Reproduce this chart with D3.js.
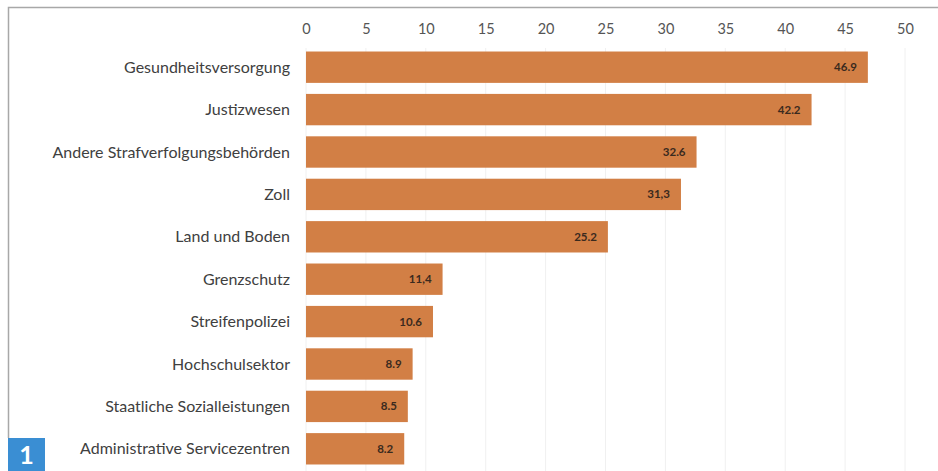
<!DOCTYPE html>
<html>
<head>
<meta charset="utf-8">
<script src="https://cdn.jsdelivr.net/npm/d3@7"></script>
<style>
  body { margin: 0; background: #fff; }
  svg { display: block; font-family: Lato, "Open Sans", sans-serif; }
</style>
</head>
<body>
<div class="chart"></div>
<script>
// categories and values
const categories = [
  "Gesundheitsversorgung",
  "Justizwesen",
  "Andere Strafverfolgungsbehörden",
  "Zoll",
  "Land und Boden",
  "Grenzschutz",
  "Streifenpolizei",
  "Hochschulsektor",
  "Staatliche Sozialleistungen",
  "Administrative Servicezentren"
];
const values = [46.9, 42.2, 32.6, 31.3, 25.2, 11.4, 10.6, 8.9, 8.5, 8.2];
// the source prints some values with a decimal comma
const valueLabels = ["46.9", "42.2", "32.6", "31,3", "25.2", "11,4", "10.6", "8.9", "8.5", "8.2"];
const tickValues = [0, 5, 10, 15, 20, 25, 30, 35, 40, 45, 50];

const width = 938, height = 471;
const svg = d3.select(".chart").append("svg")
    .attr("width", width)
    .attr("height", height);

// frame: top and left grey rule
svg.append("path")
    .attr("d", "M8.5,438 V7.5 H938")
    .attr("fill", "none")
    .attr("stroke", "#a8a8a8")
    .attr("stroke-width", 1.5);

const x = d3.scaleLinear().domain([0, 50]).range([306, 905]);
const y = d3.scaleBand().domain(categories).range([46, 470]).paddingInner(0.26).paddingOuter(0.13);

// faint gridlines
svg.append("g")
    .selectAll("line")
    .data(tickValues)
    .join("line")
    .attr("x1", d => x(d)).attr("x2", d => x(d))
    .attr("y1", 48).attr("y2", height)
    .attr("stroke", "#f0f0f0")
    .attr("stroke-width", 1);

// top axis labels
const axis = svg.append("g")
    .attr("transform", "translate(0,34)")
    .call(d3.axisTop(x).tickValues(tickValues).tickSize(0).tickPadding(0));
axis.select(".domain").remove();
axis.selectAll("text")
    .attr("fill", "#555")
    .style("font-size", "14.5px")
    .style("font-family", "Lato, sans-serif");

// category labels
svg.append("g")
    .selectAll("text")
    .data(categories)
    .join("text")
    .attr("x", 290)
    .attr("y", d => y(d) + y.bandwidth() / 2)
    .attr("dy", "0.35em")
    .attr("text-anchor", "end")
    .attr("fill", "#404040")
    .style("font-size", "16px")
    .text(d => d);

// bars
svg.append("g")
    .selectAll("rect")
    .data(values)
    .join("rect")
    .attr("x", x(0))
    .attr("y", (d, i) => y(categories[i]))
    .attr("width", d => x(d) - x(0))
    .attr("height", y.bandwidth())
    .attr("fill", "#d27f45");

// value labels inside the bar end
svg.append("g")
    .selectAll("text")
    .data(values)
    .join("text")
    .attr("x", d => x(d) - 11)
    .attr("y", (d, i) => y(categories[i]) + y.bandwidth() / 2)
    .attr("dy", "0.35em")
    .attr("text-anchor", "end")
    .attr("fill", "#3a2a1e")
    .style("font-size", "11.5px")
    .style("font-weight", "bold")
    .text((d, i) => valueLabels[i]);

// badge "1"
svg.append("rect")
    .attr("x", 8).attr("y", 438)
    .attr("width", 37).attr("height", 33)
    .attr("fill", "#3a8ed3");
svg.append("text")
    .attr("x", 26.5).attr("y", 464)
    .attr("text-anchor", "middle")
    .attr("fill", "#fff")
    .style("font-size", "25px")
    .style("font-weight", "bold")
    .text("1");
</script>
</body>
</html>
